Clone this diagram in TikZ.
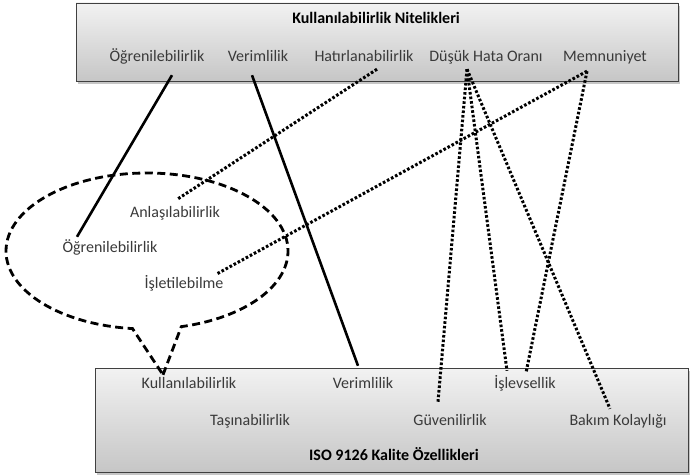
\documentclass[tikz,border=0pt]{standalone}
\usepackage{fontspec}
\setmainfont{Carlito}
\usetikzlibrary{shapes.callouts,shadows}
\definecolor{ustrenk}{HTML}{F2F2F2}
\definecolor{altrenk}{HTML}{C6C6C6}
\definecolor{yazi}{HTML}{3A3A3A}
\begin{document}
\begin{tikzpicture}[x=1pt,y=-1pt,
  every node/.style={font=\fontsize{16}{19}\selectfont,inner sep=0pt,text height=11pt,text depth=3pt},
  kutu/.style={rectangle,draw=black!75,line width=0.8pt,top color=ustrenk,bottom color=altrenk,
    drop shadow={shadow xshift=2pt,shadow yshift=-3pt,opacity=.45}},
  terim/.style={text=yazi},
  baslik/.style={font=\fontsize{16}{19}\selectfont\bfseries},
  duz/.style={line width=2.6pt},
  nokta/.style={line width=3pt,dash pattern=on 2.6pt off 2pt},
  kesik/.style={line width=2.8pt,dash pattern=on 8pt off 4.5pt}]
 \useasboundingbox (0,0) rectangle (691,476);
 % kutular
 \node[kutu,minimum width=602,minimum height=78] (ust) at (377,42) {};
 \node[kutu,minimum width=593,minimum height=104] (alt) at (391.5,420) {};
 % kullanilabilirlik nitelikleri
 \node[baslik] (k0) at (376,20) {Kullanılabilirlik Nitelikleri};
 \node[terim] (k1) at (157,58) {Öğrenilebilirlik};
 \node[terim] (k2) at (258,58) {Verimlilik};
 \node[terim] (k3) at (364,58) {Hatırlanabilirlik};
 \node[terim] (k4) at (486,58) {Düşük Hata Oranı};
 \node[terim] (k5) at (605,58) {Memnuniyet};
 % iso 9126
 \node[terim] (i1) at (189,384) {Kullanılabilirlik};
 \node[terim] (i2) at (363,384) {Verimlilik};
 \node[terim] (i3) at (525,384) {İşlevsellik};
 \node[terim] (i4) at (250,421) {Taşınabilirlik};
 \node[terim] (i5) at (450,421) {Güvenilirlik};
 \node[terim] (i6) at (618,421) {Bakım Kolaylığı};
 \node[baslik] (i0) at (394,456) {ISO 9126 Kalite Özellikleri};
 % balon
 \node[terim] (e1) at (175,213) {Anlaşılabilirlik};
 \node[terim] (e2) at (110,248) {Öğrenilebilirlik};
 \node[terim] (e3) at (184,284) {İşletilebilme};
 \node[ellipse callout,draw,kesik,minimum width=282,minimum height=156,callout pointer arc=20,
   callout absolute pointer={([xshift=-26pt,yshift=2pt]i1.north)}] (balon) at (147,251) {};

 \draw[duz] ([xshift=15pt,yshift=-10pt]k1.south) -- ([xshift=-33pt,yshift=4pt]e2.north);
 \draw[duz] ([xshift=-6pt,yshift=-10pt]k2.south) -- ([xshift=-5pt,yshift=11pt]i2.north);
 \draw[nokta] ([xshift=13pt,yshift=-4pt]k3.south) -- ([xshift=3pt,yshift=7pt]e1.north);
 \draw[nokta] ([xshift=-19pt,yshift=-4pt]k4.south) -- ([xshift=-12pt,yshift=12pt]i5.north);
 \draw[nokta] ([xshift=-19pt,yshift=-4pt]k4.south) -- ([xshift=-18pt,yshift=6pt]i3.north);
 \draw[nokta] ([xshift=-19pt,yshift=-4pt]k4.south) -- ([xshift=-8pt,yshift=5pt]i6.north);
 \draw[nokta] ([xshift=-18pt,yshift=-6pt]k5.south) -- ([xshift=33pt,yshift=3pt]e3.north);
 \draw[nokta] ([xshift=-18pt,yshift=-6pt]k5.south) -- ([xshift=1pt,yshift=4pt]i3.north);
\end{tikzpicture}
\end{document}
